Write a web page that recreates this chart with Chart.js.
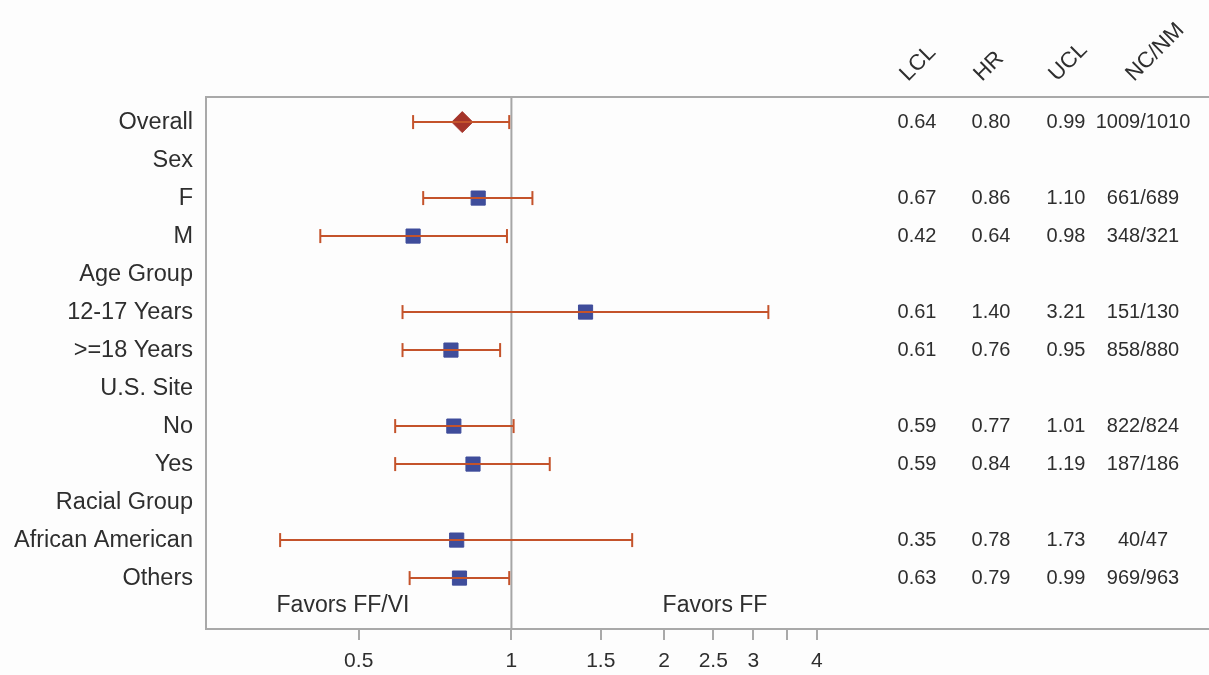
<!DOCTYPE html>
<html>
<head>
<meta charset="utf-8">
<script src="https://cdn.jsdelivr.net/npm/chart.js@4.4.1/dist/chart.umd.min.js"></script>
<style>
  html, body { margin: 0; padding: 0; background: #fdfdfd; }
  #wrap { width: 1209px; height: 675px; position: relative; }
</style>
</head>
<body>
<div id="wrap"><canvas id="c" width="1209" height="675"></canvas></div>
<script>
// ---- data ----
const rowLabels = ['Overall','Sex','F','M','Age Group','12-17 Years','>=18 Years','U.S. Site','No','Yes','Racial Group','African American','Others'];
const hrValues  = [0.80, null, 0.86, 0.64, null, 1.40, 0.76, null, 0.77, 0.84, null, 0.78, 0.79];
const lclValues = [0.64, null, 0.67, 0.42, null, 0.61, 0.61, null, 0.59, 0.59, null, 0.35, 0.63];
const uclValues = [0.99, null, 1.10, 0.98, null, 3.21, 0.95, null, 1.01, 1.19, null, 1.73, 0.99];
const ncnmValues = ['1009/1010', '', '661/689', '348/321', '', '151/130', '858/880', '', '822/824', '187/186', '', '40/47', '969/963'];
const xTickValues = [0.5, 1, 1.5, 2, 2.5, 3, 3.5, 4];
const xTickLabels = ['0.5', '1', '1.5', '2', '2.5', '3', '', '4'];
const tableHeaders = ['LCL', 'HR', 'UCL', 'NC/NM'];
const favorLabels = ['Favors FF/VI', 'Favors FF'];
const refValue = 1;

const Y_MIN = -0.66, Y_MAX = 13.34;
const lineColor = '#c4532b';
const squareColor = '#3f4d9b';
const diamondColor = '#a5342a';
const frameColor = '#a9a9a9';
const textColor = '#2e2e2e';

// ---- datasets ----
const datasets = [];
rowLabels.forEach((lab, i) => {
  if (lclValues[i] == null) return;
  datasets.push({
    type: 'line',
    data: [{x: lclValues[i], y: i}, {x: uclValues[i], y: i}],
    borderColor: lineColor,
    borderWidth: 2,
    pointStyle: 'line',
    pointRadius: 7,
    pointRotation: 90,
    pointBorderColor: lineColor,
    pointBorderWidth: 2,
    pointHoverRadius: 7,
    order: 0
  });
});
const squarePts = [], diamondPts = [];
rowLabels.forEach((lab, i) => {
  if (hrValues[i] == null) return;
  if (i === 0) diamondPts.push({x: hrValues[i], y: i});
  else squarePts.push({x: hrValues[i], y: i});
});
datasets.push({
  type: 'scatter', data: squarePts, pointStyle: 'rect', pointRadius: 10,
  backgroundColor: squareColor, borderColor: squareColor, borderWidth: 1, order: 1
});
datasets.push({
  type: 'scatter', data: diamondPts, pointStyle: 'rectRot', pointRadius: 10.5,
  backgroundColor: diamondColor, borderColor: diamondColor, borderWidth: 1, order: 1
});
datasets.push({
  type: 'line', data: [{x: refValue, y: Y_MIN}, {x: refValue, y: Y_MAX}],
  borderColor: '#a6a6a6', borderWidth: 2, pointRadius: 0, order: 2
});

const framePlugin = {
  id: 'frame',
  afterDatasetsDraw(chart) {
    const ctx = chart.ctx;
    const a = chart.chartArea;
    const ys = chart.scales.y;
    ctx.save();
    ctx.strokeStyle = frameColor;
    ctx.lineWidth = 2;
    ctx.beginPath();
    ctx.moveTo(chart.width, a.top); ctx.lineTo(a.left, a.top);
    ctx.lineTo(a.left, a.bottom); ctx.lineTo(chart.width, a.bottom);
    ctx.stroke();

    ctx.fillStyle = textColor;
    ctx.font = '20px "Liberation Sans", Arial, sans-serif';
    ctx.textAlign = 'center';
    ctx.textBaseline = 'middle';
    const cols = [917, 991, 1066, 1143];
    rowLabels.forEach((lab, i) => {
      if (hrValues[i] == null) return;
      const y = ys.getPixelForValue(i);
      ctx.fillText(lclValues[i].toFixed(2), cols[0], y);
      ctx.fillText(hrValues[i].toFixed(2), cols[1], y);
      ctx.fillText(uclValues[i].toFixed(2), cols[2], y);
      ctx.fillText(ncnmValues[i], cols[3], y);
    });
    ctx.font = '22px "Liberation Sans", Arial, sans-serif';
    ctx.textAlign = 'left';
    ctx.textBaseline = 'alphabetic';
    tableHeaders.forEach((h, k) => {
      ctx.save();
      ctx.translate(cols[k] - 9, 82);
      ctx.rotate(-Math.PI / 4);
      ctx.fillText(h, 0, 0);
      ctx.restore();
    });
    ctx.font = '23px "Liberation Sans", Arial, sans-serif';
    ctx.textAlign = 'center';
    ctx.textBaseline = 'middle';
    const yf = ys.getPixelForValue(12.73);
    ctx.fillText(favorLabels[0], 343, yf);
    ctx.fillText(favorLabels[1], 715, yf);
    ctx.restore();
  }
};

new Chart(document.getElementById('c'), {
  data: { datasets },
  options: {
    responsive: false,
    animation: false,
    events: [],
    layout: { padding: { left: 0, top: 97, right: 343, bottom: 0 } },
    plugins: { legend: { display: false }, tooltip: { enabled: false } },
    scales: {
      x: {
        type: 'logarithmic',
        min: 0.25, max: 5,
        position: 'bottom',
        border: { display: false },
        grid: { display: true, drawOnChartArea: false, drawTicks: true, tickLength: 11, color: frameColor, lineWidth: 2 },
        afterBuildTicks(s) { s.ticks = xTickValues.map(v => ({ value: v })); },
        afterFit(s) { s.height = 46; },
        ticks: {
          autoSkip: false, maxRotation: 0, minRotation: 0, padding: 9,
          color: textColor,
          font: { family: '"Liberation Sans", Arial, sans-serif', size: 21 },
          callback(v, idx) { return xTickLabels[idx]; }
        }
      },
      y: {
        type: 'linear',
        reverse: true,
        min: Y_MIN, max: Y_MAX,
        border: { display: false },
        grid: { display: false },
        afterBuildTicks(s) { s.ticks = rowLabels.map((l, i) => ({ value: i })); },
        afterFit(s) { s.width = 206; },
        ticks: {
          autoSkip: false, padding: 5,
          color: textColor,
          font: { family: '"Liberation Sans", Arial, sans-serif', size: 23.5 },
          callback(v, idx) { return rowLabels[idx]; }
        }
      }
    }
  },
  plugins: [framePlugin]
});
</script>
</body>
</html>
